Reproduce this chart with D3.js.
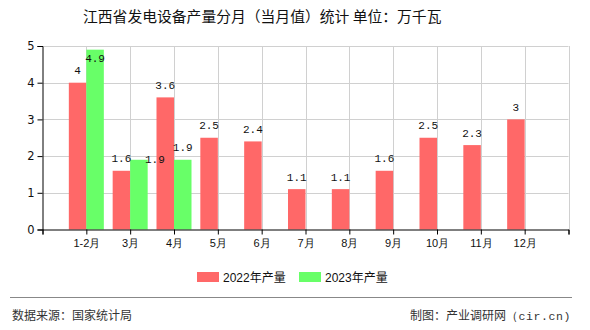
<!DOCTYPE html>
<html><head><meta charset="utf-8">
<script src="https://cdn.jsdelivr.net/npm/d3@7"></script>
<style>
html,body{margin:0;padding:0;background:#fff;}
svg{display:block;font-family:"Noto Sans CJK SC","Noto Sans",sans-serif;}
</style></head>
<body><svg id="c" width="590" height="330"></svg>
<script>
const categories = ["1-2月","3月","4月","5月","6月","7月","8月","9月","10月","11月","12月"];
const values2022 = [4,1.6,3.6,2.5,2.4,1.1,1.1,1.6,2.5,2.3,3];
const values2023 = [4.9,1.9,1.9,null,null,null,null,null,null,null,null];
const seriesNames = ["2022年产量","2023年产量"];
const seriesColors = ["#ff6868","#68ff68"];
const yTicks = [0,1,2,3,4,5];
const titleText = "江西省发电设备产量分月（当月值）统计 单位：万千瓦";
const sourceText = "数据来源：国家统计局";
const creditText = "制图：产业调研网";
const creditSuffix = "（cir.cn)";

const svg = d3.select("#c");
const L = 42.5, R = 568.5, T = 46, B = 229.5;
const x = d3.scaleLinear().domain([0, categories.length + 1]).range([L, R]);
const y = d3.scaleLinear().domain([0, 5]).range([B, T]);
const bw = 17.5;

// title
svg.append("text").attr("x", 83).attr("y", 22).attr("font-size", 14.8)
  .attr("fill", "#111").text(titleText);

// grid
const g = svg.append("g");
g.selectAll("line.h").data(yTicks.filter(d => d > 0)).join("line")
  .attr("x1", L).attr("x2", R).attr("y1", d => Math.round(y(d)) + 0.5).attr("y2", d => Math.round(y(d)) + 0.5)
  .attr("stroke", "#d0d0d0").attr("stroke-width", 1);
g.selectAll("line.v").data(d3.range(1, categories.length + 2)).join("line")
  .attr("x1", d => Math.round(x(d)) + 0.5).attr("x2", d => Math.round(x(d)) + 0.5)
  .attr("y1", T).attr("y2", B).attr("stroke", "#d0d0d0").attr("stroke-width", 1);

// bars
const series = [values2022, values2023];
series.forEach((vals, si) => {
  svg.append("g").selectAll("rect").data(vals.map((v, i) => ({v, i})).filter(d => d.v != null)).join("rect")
    .attr("x", d => si === 0 ? x(d.i + 1) - bw : x(d.i + 1))
    .attr("width", bw)
    .attr("y", d => y(d.v))
    .attr("height", d => y(0) - y(d.v))
    .attr("fill", seriesColors[si]);
});

// labels
const labels = [];
series.forEach((vals, si) => {
  vals.forEach((v, i) => {
    if (v == null) return;
    let cx = si === 0 ? x(i + 1) - bw / 2 : x(i + 1) + bw / 2;
    let cy = y(v) - 12.5;
    if (cy < T + 6) cy = y(v) + 8;
    labels.push({v, i, si, cx, cy});
  });
});
// simple collision avoidance: shift second-series label when it collides with first-series label
labels.filter(l => l.si === 1).forEach(l => {
  const o = labels.find(k => k.si === 0 && k.i === l.i);
  if (o && Math.abs(o.cy - l.cy) < 12 && Math.abs(o.cx - l.cx) < 20 && l.cy > T + 20) {
    l.cx += 16; l.cy = o.cy + 1;
  }
});
svg.append("g").selectAll("text").data(labels).join("text")
  .attr("x", d => d.cx).attr("y", d => d.cy + 4)
  .attr("text-anchor", "middle").attr("font-size", 11)
  .attr("font-family", "'Liberation Mono','DejaVu Sans Mono',monospace")
  .attr("fill", "#111").text(d => d.v);

// axes
const yAxis = d3.axisLeft(y).tickValues(yTicks).tickSize(5).tickFormat(d3.format("d"));
const ya = svg.append("g").attr("transform", `translate(${L},0)`).call(yAxis);
ya.select(".domain").attr("stroke", "#000");
ya.selectAll("text").attr("font-size", 11.5).attr("fill", "#111").attr("font-family", "'DejaVu Sans','Noto Sans',sans-serif");

const xAxis = d3.axisBottom(x).tickValues(d3.range(0, categories.length + 2)).tickSize(5)
  .tickFormat(d => (d >= 1 && d <= categories.length) ? categories[d - 1] : "");
const xa = svg.append("g").attr("transform", `translate(0,${B})`).call(xAxis);
xa.select(".domain").attr("stroke", "#000");
xa.selectAll("text").attr("font-size", 11).attr("fill", "#111").attr("dy", "0.9em");

// legend
const lg = svg.append("g");
const legX = [197, 299];
seriesNames.forEach((n, i) => {
  lg.append("rect").attr("x", legX[i]).attr("y", 272).attr("width", 22).attr("height", 10).attr("fill", seriesColors[i]);
  lg.append("text").attr("x", legX[i] + 26).attr("y", 281.5).attr("font-size", 12).attr("fill", "#111")
    .attr("font-family", "'Liberation Sans','Noto Sans CJK SC',sans-serif").text(n);
});

// footer
svg.append("line").attr("x1", 10).attr("x2", 572).attr("y1", 297.5).attr("y2", 297.5).attr("stroke", "#888").attr("stroke-width", 1.2);
svg.append("text").attr("x", 12).attr("y", 320).attr("font-size", 12).attr("fill", "#333").text(sourceText);
const ct = svg.append("text").attr("x", 571).attr("y", 320).attr("text-anchor", "end").attr("font-size", 12).attr("fill", "#333");
ct.append("tspan").text(creditText);
ct.append("tspan").attr("font-family", "'Liberation Mono','DejaVu Sans Mono',monospace").attr("font-size", 11.5).attr("letter-spacing", 0.6).text(creditSuffix);
</script></body></html>
